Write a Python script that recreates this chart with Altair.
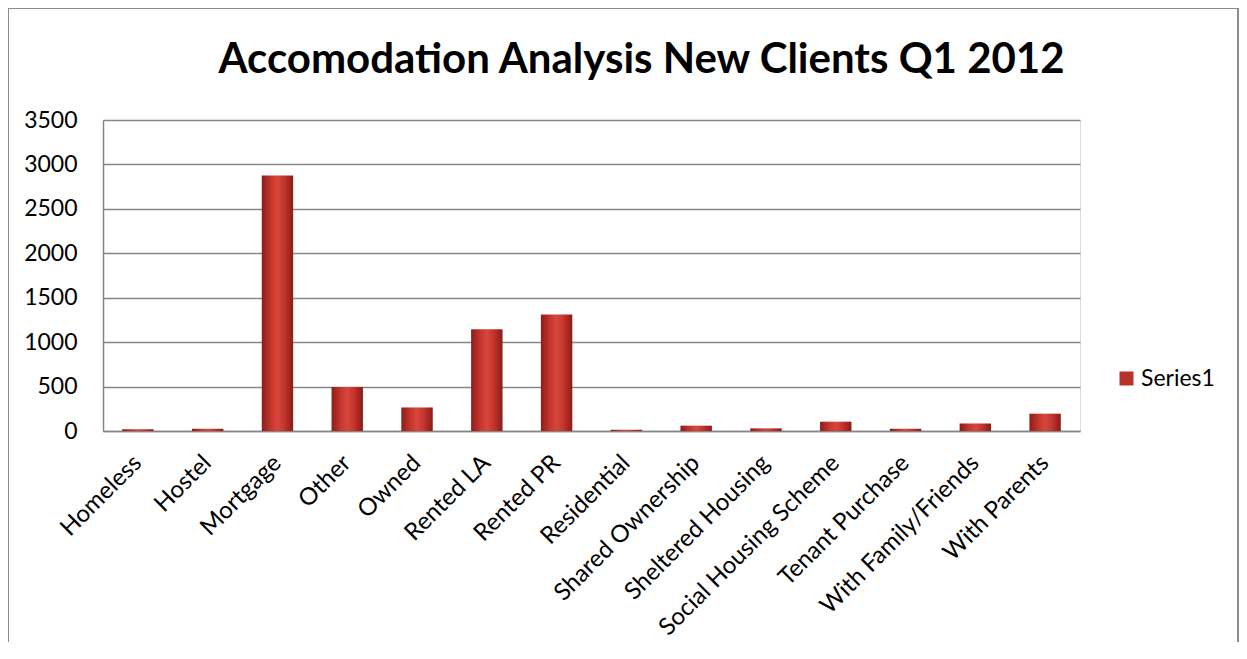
import altair as alt
import pandas as pd

categories = ["Homeless", "Hostel", "Mortgage", "Other", "Owned", "Rented LA", "Rented PR",
              "Residential", "Shared Ownership", "Sheltered Housing", "Social Housing Scheme",
              "Tenant Purchase", "With Family/Friends", "With Parents"]
values = [20, 25, 2875, 495, 265, 1145, 1310, 15, 60, 30, 105, 25, 85, 195]
series = ["Series1"] * len(categories)
y_ticks = [0, 500, 1000, 1500, 2000, 2500, 3000, 3500]

df = pd.DataFrame({"cat": categories, "val": values, "series": series})

FONT = "Lato"

grad = alt.Gradient(
    gradient="linear",
    stops=[
        alt.GradientStop(color="#8E1D18", offset=0),
        alt.GradientStop(color="#C7362E", offset=0.3),
        alt.GradientStop(color="#D6463B", offset=0.5),
        alt.GradientStop(color="#C7362E", offset=0.7),
        alt.GradientStop(color="#8A1B17", offset=1),
    ],
    x1=0, x2=1, y1=0, y2=0,
)

xenc = alt.X("cat:N", sort=categories, title=None,
             scale=alt.Scale(paddingInner=0.55, paddingOuter=0.275),
             axis=alt.Axis(labelAngle=-45, labelAlign="right", labelBaseline="middle",
                           labelFontSize=24, labelFont=FONT, labelColor="#000000",
                           labelPadding=28, ticks=False, domain=True, domainColor="#868686",
                           domainWidth=1.5, grid=False, labelLimit=400, labelOverlap=False))
yenc = alt.Y("val:Q", title=None,
             scale=alt.Scale(domain=[0, 3500], nice=False),
             axis=alt.Axis(values=y_ticks, format="d", labelFontSize=23, labelFont=FONT,
                           labelColor="#000000", labelPadding=26, ticks=False, domain=True,
                           domainColor="#868686", domainWidth=1.5, grid=True,
                           gridColor="#868686", gridWidth=1.5))

bars = alt.Chart(df).mark_bar(color=grad).encode(x=xenc, y=yenc)

legend_bars = alt.Chart(df).mark_bar(opacity=0).encode(
    x=alt.X("cat:N", sort=categories),
    y=alt.Y("val:Q"),
    color=alt.Color("series:N", title=None,
                    scale=alt.Scale(range=["#B8312A"]),
                    legend=alt.Legend(orient="none", legendX=1012, legendY=247, padding=0,
                                      symbolType="square", symbolSize=196, symbolOpacity=1,
                                      symbolStrokeWidth=0, labelFontSize=23, labelFont=FONT,
                                      labelColor="#000000", labelOffset=3)),
)

frame_df = pd.DataFrame({"a": [0]})
frame = alt.Chart(frame_df).mark_rect(fill=None, stroke="#8C8C8C", strokeWidth=2).encode(
    x=alt.value(-95), x2=alt.value(1135), y=alt.value(-112), y2=alt.value(700)
)

chart = alt.layer(frame, bars, legend_bars).properties(
    width=977, height=311,
    autosize=alt.AutoSizeParams(type="none"),
    padding={"left": 95, "top": 112, "right": 159, "bottom": 211},
    title=alt.Title("Accomodation Analysis New Clients Q1 2012", font=FONT, fontSize=42,
                    fontWeight="bold", color="#000000", anchor="middle", dx=50,
                    baseline="alphabetic", offset=-108),
).configure_view(stroke=None).configure(background="white")

chart.save("out.html", embed_options={"renderer": "svg", "actions": False})
